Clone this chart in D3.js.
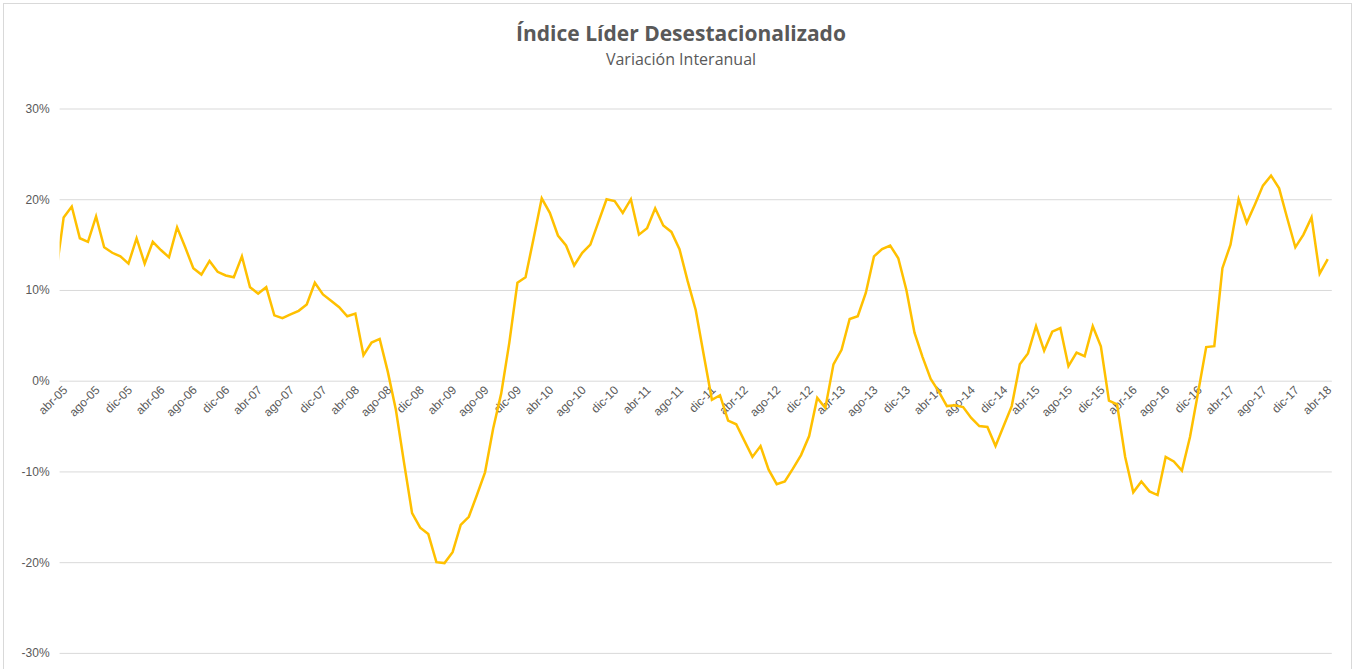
<!DOCTYPE html>
<html>
<head>
<meta charset="utf-8">
<script src="https://cdn.jsdelivr.net/npm/d3@7"></script>
<style>
  body { margin: 0; background: #fff; }
  svg { display: block; font-family: "Open Sans", sans-serif; }
  .axis text { fill: #595959; }
  .grid line { stroke: #d9d9d9; }
</style>
</head>
<body>
<svg id="chart"></svg>
<script>
// Spanish month abbreviations used for the category labels
const monthNames = ["ene", "feb", "mar", "abr", "may", "jun", "jul", "ago", "sep", "oct", "nov", "dic"];
const firstYear = 2005;
const firstMonth = 2; // mar-05, one month before the axis starts (clipped)

// year-on-year change (%), mar-05 ... abr-18
const values = [
  11.4,
  18.0, 19.2, 15.7, 15.3, 18.1, 14.7, 14.1, 13.7, 12.9, 15.7, 12.9, 15.3,
  14.4, 13.6, 16.9, 14.7, 12.4, 11.7, 13.2, 12.0, 11.6, 11.4, 13.7, 10.3,
  9.6, 10.3, 7.2, 6.9, 7.3, 7.7, 8.4, 10.8, 9.5, 8.8, 8.1, 7.1,
  7.4, 2.8, 4.2, 4.6, 1.0, -3.2, -9.0, -14.6, -16.2, -16.9, -20.0, -20.1,
  -18.9, -15.9, -15.0, -12.6, -10.1, -5.3, -1.4, 4.2, 10.8, 11.4, 15.7, 20.1,
  18.5, 16.0, 14.9, 12.7, 14.1, 15.0, 17.5, 20.0, 19.8, 18.5, 20.0, 16.1,
  16.8, 19.0, 17.1, 16.4, 14.5, 11.0, 7.8, 2.8, -2.1, -1.6, -4.4, -4.8,
  -6.6, -8.4, -7.2, -9.8, -11.4, -11.1, -9.7, -8.2, -6.1, -1.9, -3.0, 1.8,
  3.4, 6.8, 7.1, 9.7, 13.7, 14.5, 14.9, 13.5, 10.0, 5.3, 2.6, 0.2,
  -1.2, -2.8, -2.7, -2.9, -4.1, -5.0, -5.1, -7.2, -5.0, -2.8, 1.8, 3.0,
  6.0, 3.3, 5.4, 5.8, 1.6, 3.1, 2.7, 6.0, 3.8, -2.2, -2.6, -8.4,
  -12.3, -11.1, -12.2, -12.6, -8.4, -8.9, -9.9, -6.2, -1.3, 3.7, 3.8, 12.4,
  15.0, 20.0, 17.4, 19.4, 21.5, 22.6, 21.2, 17.9, 14.7, 16.1, 18.0, 11.8,
  13.4
];

const yTicks = [-30, -20, -10, 0, 10, 20, 30];
const labelEvery = 4;

const title = "Índice Líder Desestacionalizado";
const subtitle = "Variación Interanual";

// build the month table; index -1 is the clipped month before abr-05
const data = values.map((v, k) => {
  const m = firstMonth + k;
  const year = firstYear + Math.floor(m / 12);
  return {
    idx: k - 1,
    label: monthNames[m % 12] + "-" + String(year % 100).padStart(2, "0"),
    value: v,
  };
});
const shown = data.filter((d) => d.idx >= 0);

const width = 1356, height = 669;
const plot = { left: 59.6, right: 1331.8, top: 108.5, bottom: 652.9 };

const svg = d3.select("#chart").attr("width", width).attr("height", height);

// chart frame
svg.append("rect")
  .attr("x", 3.5).attr("y", 3.5)
  .attr("width", 1348).attr("height", 680)
  .attr("fill", "#fff")
  .attr("stroke", "#d9d9d9");

const xScale = d3.scaleLinear()
  .domain([-0.5, shown.length - 0.5])
  .range([plot.left, plot.right]);

const yScale = d3.scaleLinear()
  .domain([-30, 30])
  .range([plot.bottom, plot.top]);

// gridlines + y labels
const yAxis = d3.axisLeft(yScale)
  .tickValues(yTicks)
  .tickSize(-(plot.right - plot.left))
  .tickPadding(10)
  .tickFormat((d) => d + "%");

const yAxisG = svg.append("g")
  .attr("class", "axis grid")
  .attr("transform", `translate(${plot.left},0)`)
  .call(yAxis);
yAxisG.select(".domain").remove();
yAxisG.selectAll("text").style("font-size", "12px");

// category labels, rotated, sitting under the 0% line
const xAxis = d3.axisBottom(xScale)
  .tickValues(shown.filter((d) => d.idx % labelEvery === 0).map((d) => d.idx))
  .tickSize(0)
  .tickFormat((i) => shown[i].label);

const xAxisG = svg.append("g")
  .attr("class", "axis")
  .attr("transform", `translate(0,${yScale(0)})`)
  .call(xAxis);
xAxisG.select(".domain").remove();
xAxisG.selectAll("text")
  .style("font-size", "12px")
  .attr("text-anchor", "end")
  .attr("x", 0)
  .attr("y", 0)
  .attr("dy", 0)
  .attr("transform", "translate(4,10) rotate(-45)");

// line, clipped to the plot area
svg.append("clipPath")
  .attr("id", "plot-clip")
  .append("rect")
  .attr("x", plot.left).attr("y", 0)
  .attr("width", plot.right - plot.left).attr("height", height);

const line = d3.line()
  .x((d) => xScale(d.idx))
  .y((d) => yScale(d.value));

svg.append("path")
  .datum(data)
  .attr("clip-path", "url(#plot-clip)")
  .attr("fill", "none")
  .attr("stroke", "#FFC000")
  .attr("stroke-width", 2.5)
  .attr("stroke-linejoin", "miter")
  .attr("d", line);

// titles
svg.append("text")
  .attr("x", 681).attr("y", 41)
  .attr("text-anchor", "middle")
  .style("font-size", "21px")
  .style("font-weight", "bold")
  .style("fill", "#595959")
  .text(title);

svg.append("text")
  .attr("x", 681).attr("y", 65)
  .attr("text-anchor", "middle")
  .style("font-size", "16px")
  .style("fill", "#595959")
  .text(subtitle);
</script>
</body>
</html>
